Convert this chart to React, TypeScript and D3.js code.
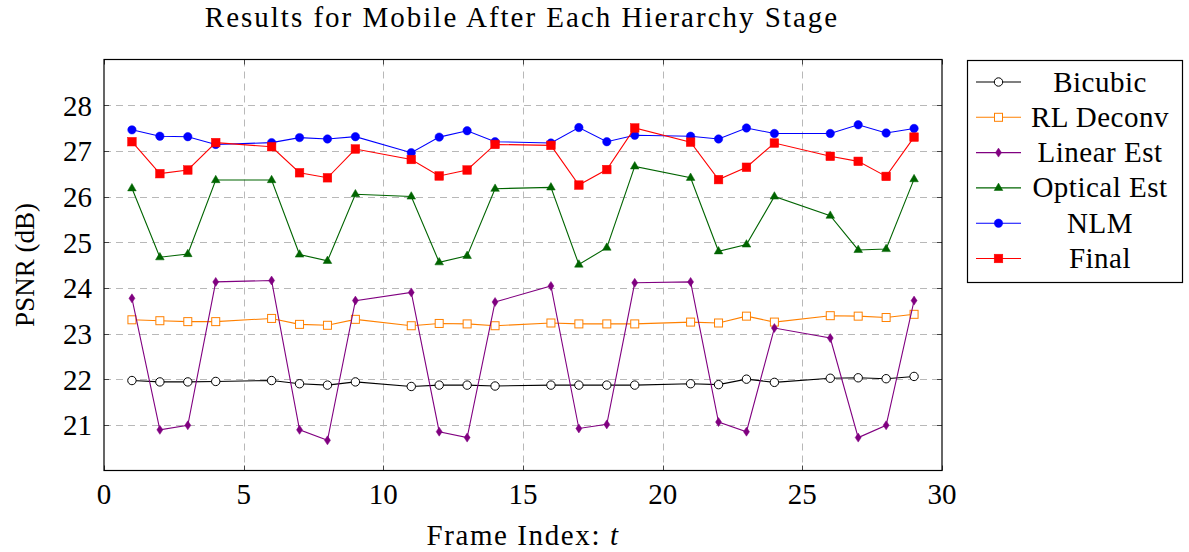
import React from "react";
import * as d3 from "d3";

// Frame indices and PSNR (dB) for each stage of the hierarchy
const frames = [1, 2, 3, 4, 6, 7, 8, 9, 11, 12, 13, 14, 16, 17, 18, 19, 21, 22, 23, 24, 26, 27, 28, 29];
const bicubic = [21.97, 21.94, 21.94, 21.95, 21.97, 21.9, 21.87, 21.94, 21.84, 21.87, 21.87, 21.85, 21.87, 21.87, 21.87, 21.87, 21.9, 21.88, 22.0, 21.93, 22.02, 22.03, 22.01, 22.06];
const rlDeconv = [23.3, 23.28, 23.26, 23.26, 23.33, 23.2, 23.18, 23.31, 23.17, 23.22, 23.21, 23.17, 23.23, 23.21, 23.21, 23.21, 23.25, 23.23, 23.38, 23.25, 23.39, 23.38, 23.35, 23.42];
const linearEst = [23.77, 20.89, 20.99, 24.13, 24.16, 20.89, 20.66, 23.72, 23.9, 20.85, 20.72, 23.69, 24.04, 20.92, 21.01, 24.11, 24.13, 21.06, 20.85, 23.12, 22.9, 20.72, 20.99, 23.72];
const opticalEst = [26.18, 24.67, 24.74, 26.36, 26.36, 24.73, 24.59, 26.05, 26.0, 24.56, 24.7, 26.17, 26.2, 24.51, 24.88, 26.66, 26.41, 24.8, 24.95, 26.0, 25.58, 24.83, 24.85, 26.38];
const nlm = [27.46, 27.32, 27.31, 27.14, 27.18, 27.29, 27.26, 27.31, 26.96, 27.3, 27.44, 27.2, 27.17, 27.51, 27.2, 27.34, 27.32, 27.26, 27.5, 27.38, 27.38, 27.57, 27.39, 27.49];
const finalStage = [27.2, 26.5, 26.58, 27.18, 27.09, 26.52, 26.41, 27.04, 26.81, 26.45, 26.58, 27.14, 27.12, 26.25, 26.59, 27.5, 27.19, 26.37, 26.64, 27.17, 26.88, 26.77, 26.44, 27.3];

const seriesNames = ["Bicubic", "RL Deconv", "Linear Est", "Optical Est", "NLM", "Final"];
const xTicks = [0, 5, 10, 15, 20, 25, 30];
const yTicks = [21, 22, 23, 24, 25, 26, 27, 28];

type Marker = "circleOpen" | "squareOpen" | "diamond" | "triangle" | "circle" | "square";

const seriesStyle: { color: string; marker: Marker }[] = [
  { color: "#000000", marker: "circleOpen" },
  { color: "#ff8000", marker: "squareOpen" },
  { color: "#800080", marker: "diamond" },
  { color: "#006400", marker: "triangle" },
  { color: "#0000ff", marker: "circle" },
  { color: "#ff0000", marker: "square" },
];

const seriesValues = [bicubic, rlDeconv, linearEst, opticalEst, nlm, finalStage];

const W = 1189;
const H = 552;
const plot = { left: 104, right: 942, top: 59.5, bottom: 470.5 };
const FONT = "Liberation Serif, DejaVu Serif, serif";
const FS = 29;

const x = d3.scaleLinear().domain([0, 30]).range([plot.left, plot.right]);
const y = d3.scaleLinear().domain([20, 29]).range([plot.bottom, plot.top]);

function MarkerShape({ kind, cx, cy, color }: { kind: Marker; cx: number; cy: number; color: string }) {
  switch (kind) {
    case "circleOpen":
      return <circle cx={cx} cy={cy} r={4.2} fill="white" stroke={color} strokeWidth={1} />;
    case "squareOpen":
      return <rect x={cx - 4} y={cy - 4} width={8} height={8} fill="white" stroke={color} strokeWidth={1} />;
    case "diamond":
      return (
        <path
          d={`M${cx},${cy - 4.5} L${cx + 3},${cy} L${cx},${cy + 4.5} L${cx - 3},${cy} Z`}
          fill={color}
          stroke={color}
          strokeWidth={0.5}
        />
      );
    case "triangle":
      return (
        <path
          d={`M${cx},${cy - 4.8} L${cx + 4.3},${cy + 2.6} L${cx - 4.3},${cy + 2.6} Z`}
          fill={color}
          stroke={color}
          strokeWidth={0.5}
        />
      );
    case "circle":
      return <circle cx={cx} cy={cy} r={4.2} fill={color} stroke={color} strokeWidth={0.5} />;
    case "square":
      return <rect x={cx - 4.3} y={cy - 4.3} width={8.6} height={8.6} fill={color} stroke={color} strokeWidth={0.5} />;
  }
}

export default function App() {
  const line = d3
    .line<number>()
    .x((_, i) => x(frames[i]))
    .y((v) => y(v));

  const legend = { left: 967.5, top: 60.5, width: 215, height: 222, rowH: 35.3, firstRow: 82 };

  return (
    <svg
      width={W}
      height={H}
      viewBox={`0 0 ${W} ${H}`}
      style={{ position: "absolute", left: 0, top: 0, background: "white" }}
    >
      <rect x={0} y={0} width={W} height={H} fill="white" />

      {/* title */}
      <text x={522} y={27} textAnchor="middle" fontFamily={FONT} fontSize={FS} letterSpacing={2} fill="#000">
        Results for Mobile After Each Hierarchy Stage
      </text>

      {/* grid */}
      <g stroke="#b8b8b8" strokeWidth={1} strokeDasharray="7,5">
        {yTicks.map((t) => (
          <line key={`gy${t}`} x1={plot.left} x2={plot.right} y1={Math.round(y(t)) + 0.5} y2={Math.round(y(t)) + 0.5} />
        ))}
        {xTicks.slice(1, -1).map((t) => (
          <line key={`gx${t}`} y1={plot.top} y2={plot.bottom} x1={Math.round(x(t)) + 0.5} x2={Math.round(x(t)) + 0.5} />
        ))}
      </g>

      {/* inward ticks on all four sides */}
      <g stroke="#444" strokeWidth={1}>
        {yTicks.map((t) => {
          const yy = Math.round(y(t)) + 0.5;
          return (
            <g key={`ty${t}`}>
              <line x1={plot.left} x2={plot.left + 5} y1={yy} y2={yy} />
              <line x1={plot.right - 5} x2={plot.right} y1={yy} y2={yy} />
            </g>
          );
        })}
        {xTicks.map((t) => {
          const xx = Math.round(x(t)) + 0.5;
          return (
            <g key={`tx${t}`}>
              <line x1={xx} x2={xx} y1={plot.bottom} y2={plot.bottom - 5} />
              <line x1={xx} x2={xx} y1={plot.top} y2={plot.top + 5} />
            </g>
          );
        })}
      </g>

      {/* series */}
      {seriesValues.map((vals, si) => (
        <g key={seriesNames[si]}>
          <path d={line(vals) || ""} fill="none" stroke={seriesStyle[si].color} strokeWidth={1.1} />
          {vals.map((v, i) => (
            <MarkerShape key={i} kind={seriesStyle[si].marker} cx={x(frames[i])} cy={y(v)} color={seriesStyle[si].color} />
          ))}
        </g>
      ))}

      {/* frame */}
      <rect
        x={plot.left}
        y={plot.top}
        width={plot.right - plot.left}
        height={plot.bottom - plot.top}
        fill="none"
        stroke="#000"
        strokeWidth={1.2}
      />

      {/* y tick labels */}
      {yTicks.map((t) => (
        <text key={`ly${t}`} x={92} y={y(t) + 10.5} textAnchor="end" fontFamily={FONT} fontSize={FS} fill="#000">
          {t}
        </text>
      ))}

      {/* x tick labels */}
      {xTicks.map((t) => (
        <text key={`lx${t}`} x={x(t)} y={504} textAnchor="middle" fontFamily={FONT} fontSize={FS} fill="#000">
          {t}
        </text>
      ))}

      {/* axis titles */}
      <text x={523} y={545} textAnchor="middle" fontFamily={FONT} fontSize={FS} letterSpacing={1.6} fill="#000">
        Frame Index: <tspan fontStyle="italic">t</tspan>
      </text>
      <text
        transform={`translate(34, ${(plot.top + plot.bottom) / 2}) rotate(-90)`}
        textAnchor="middle"
        fontFamily={FONT}
        fontSize={27}
        fill="#000"
      >
        PSNR (dB)
      </text>

      {/* legend */}
      <rect
        x={legend.left}
        y={legend.top}
        width={legend.width}
        height={legend.height}
        fill="white"
        stroke="#000"
        strokeWidth={1.2}
      />
      {seriesNames.map((name, i) => {
        const cy = legend.firstRow + i * legend.rowH;
        const st = seriesStyle[i];
        return (
          <g key={`lg${name}`}>
            <line x1={976} x2={1021} y1={cy} y2={cy} stroke={st.color} strokeWidth={1.1} />
            <MarkerShape kind={st.marker} cx={998.5} cy={cy} color={st.color} />
            <text
              x={1100}
              y={cy + 9.5}
              textAnchor="middle"
              fontFamily={FONT}
              fontSize={FS}
              letterSpacing={0.5}
              fill="#000"
            >
              {name}
            </text>
          </g>
        );
      })}
    </svg>
  );
}
